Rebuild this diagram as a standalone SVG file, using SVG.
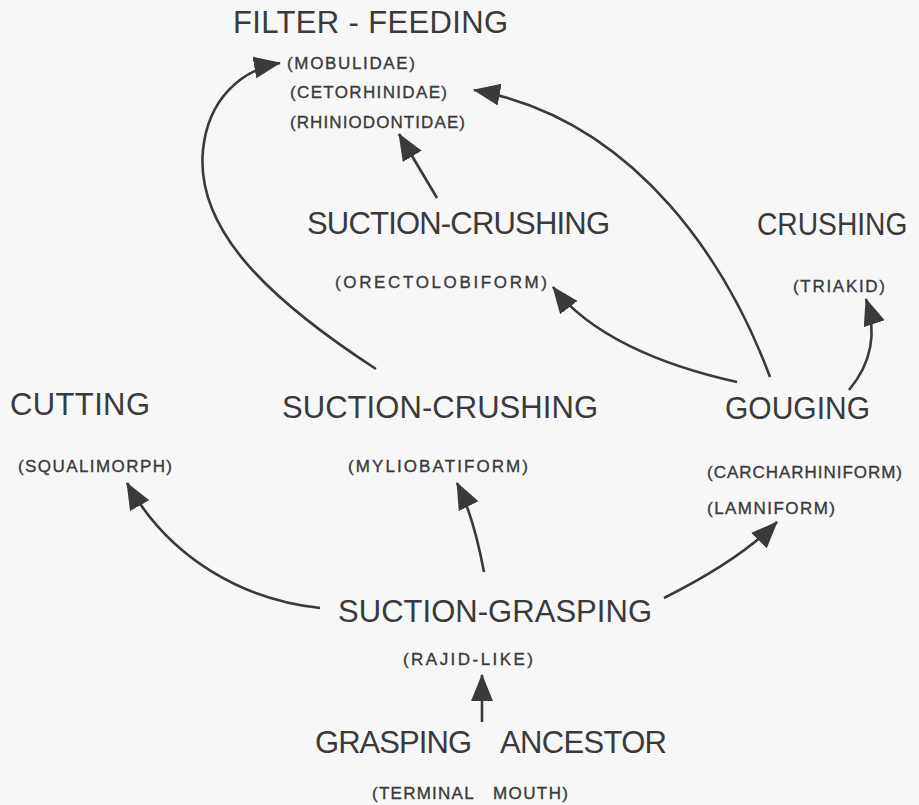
<svg xmlns="http://www.w3.org/2000/svg" width="919" height="805" viewBox="0 0 919 805">
<defs>
<style>
.big{font-family:"Liberation Sans",Arial,sans-serif;font-size:31px;fill:#3a3a3a}
.small{font-family:"Liberation Sans",Arial,sans-serif;font-size:17px;fill:#3a3a3a;stroke:#3a3a3a;stroke-width:0.35}
.c{fill:none;stroke:#3a3a3a;stroke-width:2.6}
</style>
<marker id="ah" markerUnits="userSpaceOnUse" markerWidth="28" markerHeight="24" refX="26" refY="11" orient="auto">
<path d="M0,0 L27,11 L0,22 z" fill="#3a3a3a"/>
</marker>
</defs>
<rect width="919" height="805" fill="#f7f7f7"/>
<g id="filter-feeding">
<text class="big" x="233" y="33" textLength="275" lengthAdjust="spacing">FILTER - FEEDING</text>
<text class="small" x="287" y="69" textLength="128" lengthAdjust="spacing">(MOBULIDAE)</text>
<text class="small" x="290" y="98" textLength="157" lengthAdjust="spacing">(CETORHINIDAE)</text>
<text class="small" x="290" y="128" textLength="175" lengthAdjust="spacing">(RHINIODONTIDAE)</text>
</g>
<g id="suction-crushing-orecto">
<text class="big" x="307" y="234" textLength="303" lengthAdjust="spacing">SUCTION-CRUSHING</text>
<text class="small" x="335" y="288" textLength="212" lengthAdjust="spacing">(ORECTOLOBIFORM)</text>
</g>
<g id="crushing">
<text class="big" transform="translate(757,235) scale(0.91,1)" x="0" y="0">CRUSHING</text>
<text class="small" x="793" y="292" textLength="92" lengthAdjust="spacing">(TRIAKID)</text>
</g>
<g id="cutting">
<text class="big" x="10" y="415" textLength="140" lengthAdjust="spacing">CUTTING</text>
<text class="small" x="18" y="472" textLength="154" lengthAdjust="spacing">(SQUALIMORPH)</text>
</g>
<g id="suction-crushing-mylio">
<text class="big" x="282" y="418" textLength="316" lengthAdjust="spacing">SUCTION-CRUSHING</text>
<text class="small" x="348" y="472" textLength="180" lengthAdjust="spacing">(MYLIOBATIFORM)</text>
</g>
<g id="gouging">
<text class="big" x="725" y="419" textLength="145" lengthAdjust="spacingAndGlyphs">GOUGING</text>
<text class="small" x="707" y="478" textLength="195" lengthAdjust="spacing">(CARCHARHINIFORM)</text>
<text class="small" x="707" y="514" textLength="128" lengthAdjust="spacing">(LAMNIFORM)</text>
</g>
<g id="suction-grasping">
<text class="big" x="338" y="622" textLength="314" lengthAdjust="spacing">SUCTION-GRASPING</text>
<text class="small" x="403" y="665" textLength="130" lengthAdjust="spacing">(RAJID-LIKE)</text>
</g>
<g id="grasping-ancestor">
<text class="big" y="753"><tspan x="315" textLength="157" lengthAdjust="spacing">GRASPING</tspan> <tspan x="500" textLength="167" lengthAdjust="spacing">ANCESTOR</tspan></text>
<text class="small" y="799"><tspan x="372" textLength="101" lengthAdjust="spacing">(TERMINAL</tspan> <tspan x="493" textLength="75" lengthAdjust="spacing">MOUTH)</tspan></text>
</g>
<g id="connectors">
<path class="c" marker-end="url(#ah)" d="M482,722 L482,675"/>
<path class="c" marker-end="url(#ah)" d="M320,608 C245,600 170,560 127,483"/>
<path class="c" marker-end="url(#ah)" d="M484,572 C478,540 468,505 457,483"/>
<path class="c" marker-end="url(#ah)" d="M664,598 C700,580 745,555 777,522"/>
<path class="c" marker-end="url(#ah)" d="M376,369 C270,300 195,230 203,150 C208,100 240,70 280,63"/>
<path class="c" marker-end="url(#ah)" d="M437,198 L399,134"/>
<path class="c" marker-end="url(#ah)" d="M770,377 C730,270 640,120 474,90"/>
<path class="c" marker-end="url(#ah)" d="M737,382 C660,365 590,335 553,287"/>
<path class="c" marker-end="url(#ah)" d="M849,390 C870,365 878,335 866,299"/>
</g>
</svg>
